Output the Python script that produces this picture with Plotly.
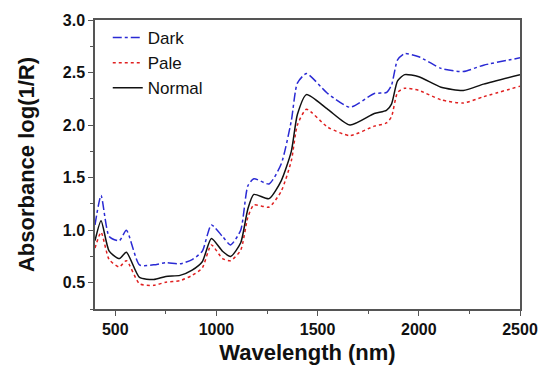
import plotly.graph_objects as go

wavelength = [400, 430, 470, 520, 555, 620, 690, 750, 820, 880, 930, 975, 1030, 1070, 1120,
              1155, 1185, 1260, 1320, 1370, 1400, 1445, 1550, 1660, 1780, 1840, 1865, 1895,
              1930, 2000, 2110, 2220, 2320, 2500]

dark = [1.05, 1.33, 0.94, 0.90, 1.00, 0.67, 0.67, 0.69, 0.68, 0.72, 0.80, 1.05, 0.94, 0.86, 1.00,
        1.42, 1.49, 1.44, 1.63, 2.04, 2.40, 2.49, 2.30, 2.17, 2.30, 2.31, 2.38, 2.62,
        2.68, 2.65, 2.54, 2.51, 2.57, 2.64]

pale = [0.83, 0.98, 0.72, 0.65, 0.71, 0.49, 0.475, 0.505, 0.52, 0.57, 0.64, 0.86, 0.73, 0.71, 0.81,
        1.12, 1.24, 1.22, 1.37, 1.66, 2.00, 2.15, 1.98, 1.90, 1.99, 2.02, 2.08, 2.31,
        2.35, 2.33, 2.24, 2.21, 2.27, 2.37]

normal = [0.90, 1.09, 0.80, 0.73, 0.79, 0.55, 0.53, 0.56, 0.57, 0.62, 0.70, 0.92, 0.80, 0.75, 0.88,
          1.20, 1.34, 1.30, 1.47, 1.75, 2.10, 2.29, 2.15, 2.00, 2.11, 2.14, 2.20, 2.42,
          2.48, 2.46, 2.36, 2.33, 2.39, 2.48]

x_ticks = [500, 1000, 1500, 2000, 2500]
y_ticks = [0.5, 1.0, 1.5, 2.0, 2.5, 3.0]

FONT = "Liberation Sans, Arial, sans-serif"

fig = go.Figure()
fig.add_trace(go.Scatter(x=wavelength, y=dark, name="Dark", mode="lines",
                         line=dict(color="#2a2ad4", width=1.5, dash="dashdot", shape="spline", smoothing=0.6)))
fig.add_trace(go.Scatter(x=wavelength, y=pale, name="Pale", mode="lines",
                         line=dict(color="#e02020", width=1.5, dash="dot", shape="spline", smoothing=0.6)))
fig.add_trace(go.Scatter(x=wavelength, y=normal, name="Normal", mode="lines",
                         line=dict(color="#111111", width=1.5, shape="spline", smoothing=0.6)))

axis_common = dict(showgrid=False, zeroline=False, showline=True, linecolor="#555555", linewidth=1.5,
                   mirror=True, ticks="outside", ticklen=5, tickwidth=1.2, tickcolor="#555555",
                   tickfont=dict(family=FONT, size=16, color="#111111", weight="bold"))

fig.update_layout(
    width=540, height=357,
    margin=dict(l=87, r=28, t=12, b=56, autoexpand=False),
    paper_bgcolor="white", plot_bgcolor="white",
    showlegend=True,
    legend=dict(x=0.03, y=1.0, xanchor="left", yanchor="top", bgcolor="rgba(0,0,0,0)",
                font=dict(family=FONT, size=17, color="#111111"),
                tracegroupgap=0, itemwidth=30),
    xaxis=dict(range=[400, 2500], tickvals=x_ticks,
               minor=dict(dtick=250, tick0=0, ticks="outside", ticklen=3, tickcolor="#555555"),
               title=dict(text="Wavelength (nm)", standoff=9,
                          font=dict(family=FONT, size=22, color="#111111", weight="bold")),
               **axis_common),
    yaxis=dict(range=[0.25, 3.0], tickvals=y_ticks, tickformat=".1f",
               minor=dict(dtick=0.25, tick0=0, ticks="outside", ticklen=3, tickcolor="#555555"),
               title=dict(text="Absorbance log(1/R)", standoff=22,
                          font=dict(family=FONT, size=22, color="#111111", weight="bold")),
               **axis_common),
)

fig.write_html("out.html")
